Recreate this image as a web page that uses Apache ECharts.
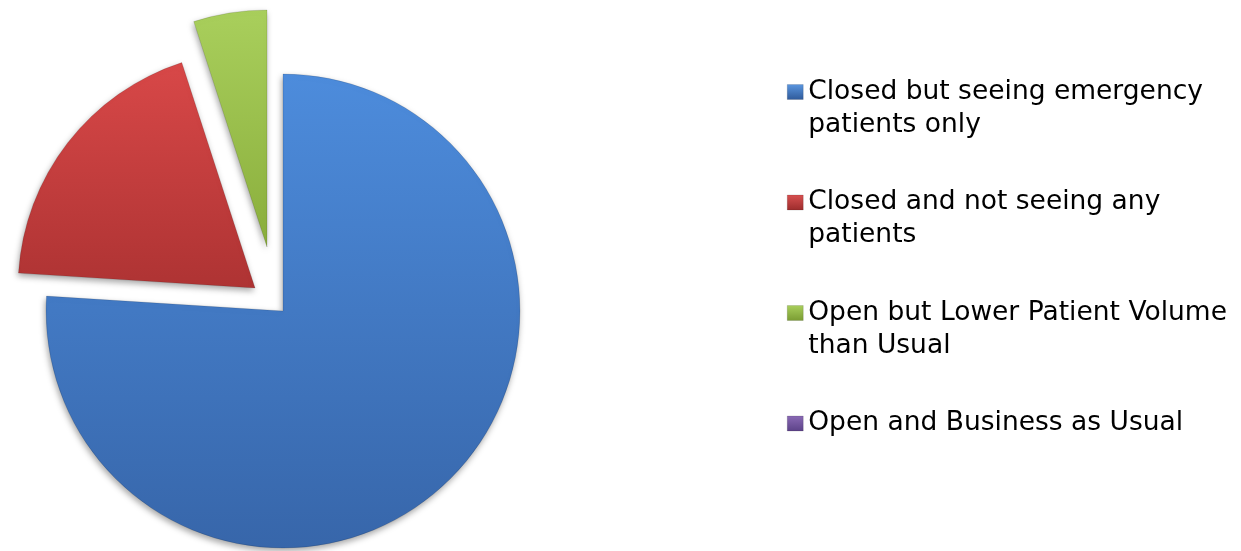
<!DOCTYPE html>
<html>
<head>
<meta charset="utf-8">
<script src="https://cdn.jsdelivr.net/npm/echarts@6/dist/echarts.min.js"></script>
<style>
html,body{margin:0;padding:0;background:#fff;}
#chart{width:1241px;height:551px;}
</style>
</head>
<body>
<div id="chart"></div>
<script>
var categories = [
  'Closed but seeing emergency patients only',
  'Closed and not seeing any patients',
  'Open but Lower Patient Volume than Usual',
  'Open and Business as Usual'
];
var legendLabels = [
  'Closed but seeing emergency\npatients only',
  'Closed and not seeing any\npatients',
  'Open but Lower Patient Volume\nthan Usual',
  'Open and Business as Usual'
];
var values = [76, 19, 5, 0];

function grad(top, bottom) {
  return new echarts.graphic.LinearGradient(0, 0, 0, 1, [
    {offset: 0, color: top}, {offset: 1, color: bottom}
  ]);
}
var sliceColors = [
  grad('#4d8cdc', '#3766aa'),
  grad('#d84848', '#ae3333'),
  grad('#a9cf5c', '#8aae3c'),
  grad('#8465b0', '#674b93')
];
var iconColors = [
  grad('#5a96e0', '#2f5a9a'),
  grad('#d85050', '#9c2c2c'),
  grad('#a9cf5c', '#7a9c32'),
  grad('#8a6ab5', '#5c4288')
];

// one pie per visible slice; each pie keeps the full data so angles come from values
var centers = [[283, 311], [255, 288], [267, 247], [283, 311]];

function buildSeries(visibleIdx) {
  return {
    type: 'pie',
    radius: 237,
    center: centers[visibleIdx],
    startAngle: 90,
    clockwise: true,
    silent: true,
    label: {show: false},
    labelLine: {show: false},
    emphasis: {disabled: true, scale: false},
    data: categories.map(function (name, i) {
      var vis = i === visibleIdx;
      return {
        name: name,
        value: values[i],
        itemStyle: vis ? {
          color: sliceColors[i],
          borderColor: 'rgba(0,0,0,0.12)',
          borderWidth: 1,
          shadowColor: 'rgba(0,0,0,0.35)',
          shadowBlur: 6,
          shadowOffsetX: -1,
          shadowOffsetY: 3
        } : {color: 'rgba(0,0,0,0)', borderWidth: 0}
      };
    })
  };
}

var chart = echarts.init(document.getElementById('chart'), null, {renderer: 'canvas'});
chart.setOption({
  animation: false,
  backgroundColor: '#ffffff',
  legend: {
    orient: 'vertical',
    left: 787,
    top: 42.5,
    padding: 0,
    itemGap: 11.5,
    itemWidth: 16,
    itemHeight: 15,
    icon: 'rect',
    selectedMode: false,
    formatter: function (name) {
      var lbl = legendLabels[categories.indexOf(name)];
      // blank first line so the icon sits beside the first text line
      return ' \n' + lbl + (lbl.indexOf('\n') < 0 ? '\n ' : '');
    },
    textStyle: {
      fontFamily: 'DejaVu Sans',
      fontSize: 26.5,
      lineHeight: 33,
      color: '#000000'
    },
    data: categories.map(function (name, i) {
      return {
        name: name,
        itemStyle: {color: iconColors[i], opacity: 1, borderColor: 'rgba(0,0,0,0.25)', borderWidth: 0.5}
      };
    })
  },
  series: [buildSeries(0), buildSeries(1), buildSeries(2)]
});
</script>
</body>
</html>
